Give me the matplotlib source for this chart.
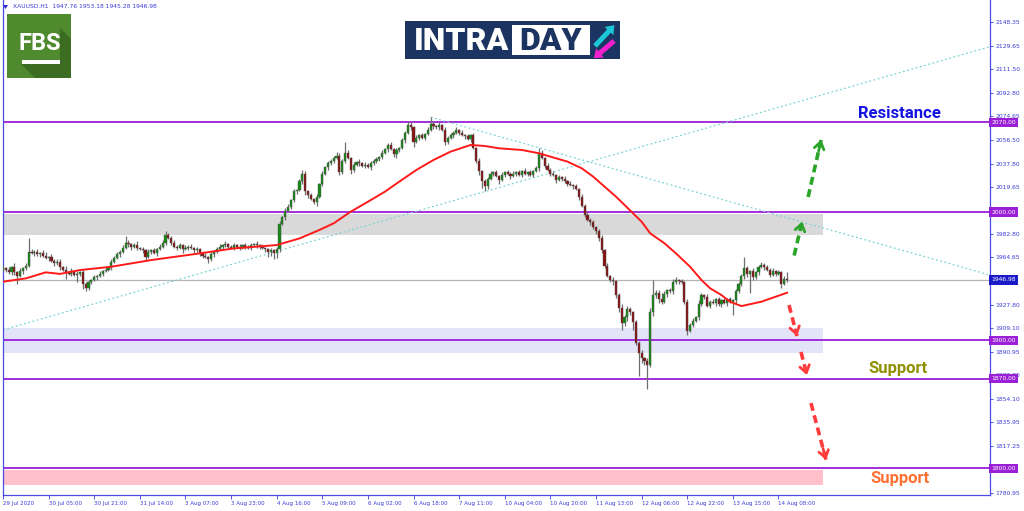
import numpy as np
import matplotlib.pyplot as plt
from matplotlib.patches import Rectangle, Polygon, FancyArrow
from matplotlib.transforms import blended_transform_factory

# H1 closes (29 Jul 2020 -> 14 Aug 2020)
first_open = 1955.0
closes = [
    1956, 1955, 1953, 1957, 1953, 1950, 1954, 1956, 1958, 1969,
    1968, 1969, 1967, 1968, 1966, 1964, 1965, 1962, 1960, 1961,
    1957, 1955, 1953, 1952, 1954, 1951, 1952, 1953, 1944, 1941,
    1945, 1947, 1949, 1950, 1952, 1954, 1955, 1957, 1961, 1964,
    1967, 1969, 1972, 1976, 1975, 1973, 1974, 1972, 1971, 1970,
    1965, 1969, 1970, 1968, 1971, 1973, 1976, 1982, 1980, 1976,
    1973, 1972, 1974, 1971, 1972, 1973, 1972, 1970, 1971, 1968,
    1966, 1965, 1963, 1967, 1969, 1971, 1973, 1974, 1975, 1973,
    1972, 1974, 1973, 1972, 1974, 1973, 1972, 1974, 1975, 1974,
    1973, 1972, 1971, 1969, 1970, 1968, 1971, 1991, 1996, 2001,
    2004, 2009, 2016, 2017, 2024, 2030, 2016, 2013, 2010, 2008,
    2012, 2022, 2030, 2035, 2038, 2040, 2042, 2044, 2031, 2040,
    2046, 2042, 2033, 2037, 2039, 2038, 2036, 2037, 2035, 2038,
    2040, 2041, 2043, 2046, 2049, 2052, 2049, 2045, 2048, 2050,
    2056, 2062, 2068, 2066, 2055, 2058, 2060, 2058, 2061, 2064,
    2069, 2067, 2066, 2068, 2064, 2055, 2058, 2060, 2062, 2064,
    2062, 2060, 2059, 2057, 2060, 2050, 2040, 2032, 2024, 2020,
    2026, 2030, 2031, 2028, 2025, 2029, 2031, 2030, 2028, 2030,
    2031, 2029, 2032, 2030, 2031, 2029, 2032, 2034, 2046, 2042,
    2036, 2033, 2030, 2029, 2025, 2027, 2026, 2024, 2022, 2021,
    2020, 2018, 2012, 2005, 1998, 1994, 1992, 1988, 1985, 1980,
    1970, 1958, 1950, 1947, 1946, 1935, 1925, 1913, 1918, 1924,
    1922, 1914, 1898, 1890, 1886, 1884, 1881, 1922, 1935, 1937,
    1932, 1930, 1936, 1939, 1938, 1945, 1947, 1946, 1945, 1930,
    1907, 1912, 1915, 1918, 1928, 1935, 1934, 1927, 1930, 1929,
    1932, 1928, 1931, 1929, 1932, 1930, 1931, 1938, 1944, 1950,
    1956, 1952, 1954, 1949, 1953, 1957, 1959, 1957, 1955, 1951,
    1954, 1952, 1953, 1944, 1947.76, 1946.98,
]
upper_wick = [
    2, 1, 2, 1, 3, 1, 2, 1, 2, 11,
    2, 1, 2, 1, 2, 3, 1, 2, 1, 2,
    2, 1, 3, 1, 2, 1, 2, 1, 2, 1,
    2, 1, 2, 1, 2, 1, 2, 1, 2, 2,
    2, 1, 2, 5, 2, 1, 2, 3, 1, 2,
    1, 2, 1, 2, 1, 2, 2, 3, 2, 1,
    2, 1, 2, 1, 2, 1, 2, 1, 2, 1,
    1, 2, 1, 2, 1, 2, 2, 1, 2, 1,
    1, 2, 1, 2, 1, 2, 1, 2, 1, 2,
    1, 2, 1, 1, 2, 1, 2, 2, 1, 2,
    2, 1, 2, 1, 2, 3, 2, 1, 2, 1,
    2, 1, 2, 1, 2, 1, 2, 3, 2, 1,
    9, 2, 1, 2, 1, 2, 1, 2, 1, 2,
    1, 2, 1, 2, 1, 2, 3, 1, 2, 1,
    2, 1, 3, 2, 1, 2, 1, 2, 1, 2,
    5, 2, 1, 2, 1, 2, 1, 2, 1, 2,
    1, 2, 1, 2, 1, 2, 1, 2, 1, 2,
    1, 2, 1, 2, 1, 2, 1, 2, 1, 2,
    1, 2, 1, 2, 1, 2, 1, 2, 4, 2,
    1, 2, 1, 2, 1, 2, 1, 2, 1, 2,
    1, 2, 1, 2, 1, 2, 1, 2, 1, 2,
    2, 1, 2, 1, 2, 1, 2, 3, 2, 3,
    2, 1, 2, 1, 2, 1, 2, 3, 12, 2,
    2, 5, 2, 1, 2, 3, 2, 1, 2, 1,
    2, 1, 2, 1, 3, 2, 1, 2, 1, 2,
    1, 2, 1, 2, 1, 2, 1, 2, 1, 2,
    9, 2, 1, 2, 1, 2, 2, 1, 2, 1,
    2, 1, 2, 1, 2, 5.42,
]
lower_wick = [
    1, 2, 1, 2, 2, 6, 1, 2, 1, 1,
    1, 2, 1, 2, 1, 1, 2, 1, 2, 1,
    2, 1, 5, 1, 2, 1, 6, 2, 4, 3,
    2, 1, 1, 2, 1, 2, 1, 1, 2, 1,
    1, 2, 1, 1, 2, 3, 1, 2, 1, 2,
    3, 1, 2, 1, 2, 1, 1, 2, 1, 2,
    1, 2, 1, 3, 1, 2, 1, 2, 1, 2,
    2, 1, 3, 1, 2, 1, 1, 2, 1, 2,
    1, 2, 1, 2, 1, 2, 1, 2, 1, 2,
    2, 1, 2, 4, 3, 5, 4, 2, 1, 2,
    1, 2, 1, 2, 1, 2, 3, 2, 1, 2,
    3, 1, 2, 1, 2, 1, 2, 1, 2, 1,
    2, 1, 3, 2, 1, 2, 1, 2, 1, 2,
    1, 2, 1, 2, 1, 2, 1, 2, 3, 1,
    1, 2, 1, 2, 4, 1, 2, 1, 2, 1,
    1, 2, 1, 2, 1, 3, 2, 1, 2, 1,
    2, 1, 2, 1, 2, 1, 2, 3, 5, 4,
    2, 1, 2, 1, 3, 1, 2, 1, 2, 1,
    2, 1, 2, 1, 2, 1, 2, 1, 2, 1,
    2, 1, 2, 1, 2, 1, 2, 1, 2, 1,
    2, 1, 3, 1, 2, 1, 2, 1, 2, 3,
    2, 2, 1, 2, 3, 2, 3, 5, 2, 3,
    2, 6, 2, 18, 4, 3, 19, 2, 3, 2,
    3, 2, 1, 2, 1, 2, 1, 2, 1, 2,
    3, 1, 2, 1, 2, 1, 2, 1, 2, 1,
    2, 1, 2, 1, 2, 1, 10, 2, 1, 2,
    2, 3, 15, 2, 1, 2, 1, 2, 1, 2,
    1, 2, 1, 3, 1, 1.70,
]

# moving average, read at some bars
ma_bars = [0, 8, 15, 20, 27, 38, 52, 69, 81, 96, 104, 111, 116, 122, 128, 134, 139,
           145, 151, 157, 164, 169, 174, 182, 188, 198, 203, 207, 215, 221,
           224, 227, 232, 236, 241, 245, 248, 252, 255, 259, 266, 275]
ma_vals = [1945.6, 1948.2, 1952.9, 1951.7, 1954.7, 1957.3, 1962.5, 1967.7, 1971.6, 1974.2,
           1979.4, 1986.0, 1991.2, 2000.3, 2008.0, 2015.9, 2023.7, 2032.8, 2040.6, 2047.1,
           2052.3, 2051.5, 2049.7, 2048.4, 2045.8, 2039.3, 2034.1, 2027.6, 2012.0,
           1999.0, 1992.4, 1983.4, 1975.6, 1967.8, 1957.3, 1946.9, 1940.5, 1935.2,
           1930.0, 1926.6, 1930.0, 1937.0]

levels = [2070.00, 2000.00, 1900.00, 1870.00, 1800.00]
last_price = 1946.98
ytick_vals = [2148.35, 2129.65, 2111.50, 2092.80, 2074.65, 2056.50, 2037.80, 2019.65,
              1982.80, 1964.65, 1927.80, 1909.10, 1890.95, 1872.80, 1854.10, 1835.95,
              1817.25, 1780.95]
xtick_labels = ['29 Jul 2020', '30 Jul 05:00', '30 Jul 21:00', '31 Jul 14:00', '3 Aug 07:00',
                '3 Aug 23:00', '4 Aug 16:00', '5 Aug 09:00', '6 Aug 02:00', '6 Aug 18:00',
                '7 Aug 11:00', '10 Aug 04:00', '10 Aug 20:00', '11 Aug 13:00', '12 Aug 06:00',
                '12 Aug 22:00', '13 Aug 15:00', '14 Aug 08:00']

c = np.array(closes, dtype=float)
o = np.concatenate([[first_open], c[:-1]])
hi = np.maximum(o, c) + np.array(upper_wick)
lo = np.minimum(o, c) - np.array(lower_wick)
x = np.arange(len(c))

W, H = 1024, 511
BLUE = '#3a3ad6'
PURPLE = '#9a1fd6'

fig = plt.figure(figsize=(W / 100, H / 100), dpi=100)
ax = fig.add_axes([3 / W, 1 - 495 / H, 987 / W, 495 / H])
ax.set_xlim(0.1, 346.2)
ax.set_ylim(1779.17, 2165.43)

# zones
ax.add_patch(Rectangle((-2, 1982.0), 289.6, 16.8, fc='#d9d9d9', ec='none', zorder=1))
ax.add_patch(Rectangle((-2, 1889.7), 289.6, 19.5, fc='#e4e4f8', ec='none', zorder=1))
ax.add_patch(Rectangle((-2, 1787.0), 289.6, 11.8, fc='#ffc0cb', ec='none', zorder=1))

for lv in levels:
    ax.axhline(lv, color=PURPLE, lw=1.3, zorder=2)
ax.axhline(last_price, color='#b4b4b4', lw=0.9, zorder=2)

# trend lines
ax.axline((0, 1908.0), (346.2, 2129.0), color='#7fd3d3', lw=0.9, ls=(0, (1.5, 2)), zorder=2.5)
ax.plot([150, 346.2], [2074.0, 1950.8], color='#7fd3d3', lw=0.9, ls=(0, (1.5, 2)), zorder=2.5)

# candles
bull = c >= o
ax.vlines(x, lo, hi, color='#6e6e6e', lw=0.9, zorder=3)
ax.bar(x, np.maximum(np.abs(c - o), 0.4), bottom=np.minimum(o, c), width=0.75,
       color=np.where(bull, '#138a13', '#8a0f0f'), edgecolor='#555555', linewidth=0.3, zorder=4)

ax.plot(ma_bars, ma_vals, color='#ff1a1a', lw=1.4, zorder=5, solid_joinstyle='round')

# forecast arrows
arrows = [((277.5, 1966.0), (280.3, 1992.5), '#2aa52a'),
          ((282.4, 2011.7), (287.0, 2056.5), '#2aa52a'),
          ((275.7, 1927.4), (278.5, 1903.2), '#ff3b3b'),
          ((279.9, 1890.8), (282.0, 1872.8), '#ff3b3b'),
          ((283.4, 1850.9), (288.7, 1806.5), '#ff3b3b')]
for (x0, y0), (x1, y1), col in arrows:
    ax.plot([x0, x1], [y0, y1], color=col, lw=2.6, ls=(0, (2.2, 1.3)), zorder=6)
    bx, by = x1 - (x1 - x0) * 0.2, y1 - (y1 - y0) * 0.2
    ax.annotate('', xy=(x1, y1), xytext=(bx, by), zorder=6,
                arrowprops=dict(arrowstyle='->,head_length=0.5,head_width=0.35', lw=2.0,
                                color=col, shrinkA=0, shrinkB=0))

ax.text(314.6, 2076.5, 'Resistance', color='#1414e0', fontsize=12, fontweight='bold',
        family='Roboto', ha='center', va='center', zorder=7)
ax.text(314.0, 1877.5, 'Support', color='#8f8f00', fontsize=12, fontweight='bold',
        family='Roboto', ha='center', va='center', zorder=7)
ax.text(314.6, 1791.7, 'Support', color='#ff7033', fontsize=12, fontweight='bold',
        family='Roboto', ha='center', va='center', zorder=7)

# axes styling
for s in ['left', 'right', 'bottom']:
    ax.spines[s].set_color('#4a4ae6')
    ax.spines[s].set_linewidth(0.9)
ax.spines['top'].set_visible(False)
ax.yaxis.tick_right()
ax.set_yticks(ytick_vals)
ax.set_yticklabels(['%.2f' % v for v in ytick_vals])
ax.tick_params(axis='y', length=2.5, width=0.6, pad=1.5, labelsize=4.3, colors=BLUE)
ax.set_xticks(np.arange(len(xtick_labels)) * 16)
ax.set_xticklabels(xtick_labels)
ax.tick_params(axis='x', length=3, width=0.6, pad=1, labelsize=4.0, colors=BLUE)
for t in ax.get_xticklabels():
    t.set_horizontalalignment('left')

tr = blended_transform_factory(ax.transAxes, ax.transData)
for lv in levels:
    ax.text(1.0012, lv, '%.2f' % lv, transform=tr, color='white', fontsize=4.3, va='center',
            ha='left', zorder=8, clip_on=False,
            bbox=dict(fc=PURPLE, ec='none', boxstyle='square,pad=0.35'))
ax.text(1.0012, last_price, '%.2f' % last_price, transform=tr, color='white', fontsize=4.3,
        va='center', ha='left', zorder=8, clip_on=False,
        bbox=dict(fc='#1a1ac8', ec='none', boxstyle='square,pad=0.35'))

# overlay in pixel units for header and logos
ov = fig.add_axes([0, 0, 1, 1])
ov.set_xlim(0, W)
ov.set_ylim(H, 0)
ov.axis('off')
ov.patch.set_alpha(0)

ov.add_patch(Polygon([(3, 5), (8, 5), (5.5, 9)], closed=True, fc='#2a2ad0', ec='none'))
ov.text(13, 7, 'XAUUSD.H1  1947.76 1953.18 1945.28 1946.98', color=BLUE, fontsize=4.3,
        va='center', ha='left')

# FBS logo
ov.add_patch(Rectangle((7, 14), 64, 64, fc='#4f8b2e', ec='none'))
ov.add_patch(Polygon([(60, 28), (71, 39), (71, 78), (35, 78), (21, 64), (60, 64)],
                     closed=True, fc='#3c6c21', ec='none'))
ov.text(40, 43, 'FBS', color='white', fontsize=17, fontweight='bold', family='Roboto',
        ha='center', va='center')
ov.add_patch(Rectangle((21.5, 60), 38, 4, fc='white', ec='none'))

# INTRADAY logo
ov.add_patch(Rectangle((405, 21), 215, 38, fc='#1c3461', ec='none'))
ov.add_patch(Rectangle((512, 25), 78, 30, fc='white', ec='none'))
ov.text(461, 40.5, 'INTRA', color='white', fontsize=23, fontweight='heavy', family='Roboto',
        ha='center', va='center')
ov.text(551, 40.5, 'DAY', color='#1c3461', fontsize=23, fontweight='heavy', family='Roboto',
        ha='center', va='center')
ov.add_patch(FancyArrow(595, 46, 14, -15, width=5, head_width=12, head_length=8,
                        fc='#1cc6d6', ec='none'))
ov.add_patch(FancyArrow(614, 41, -14, 12, width=5, head_width=12, head_length=8,
                        fc='#f21fcf', ec='none'))

fig.savefig('out.png', dpi=100)
